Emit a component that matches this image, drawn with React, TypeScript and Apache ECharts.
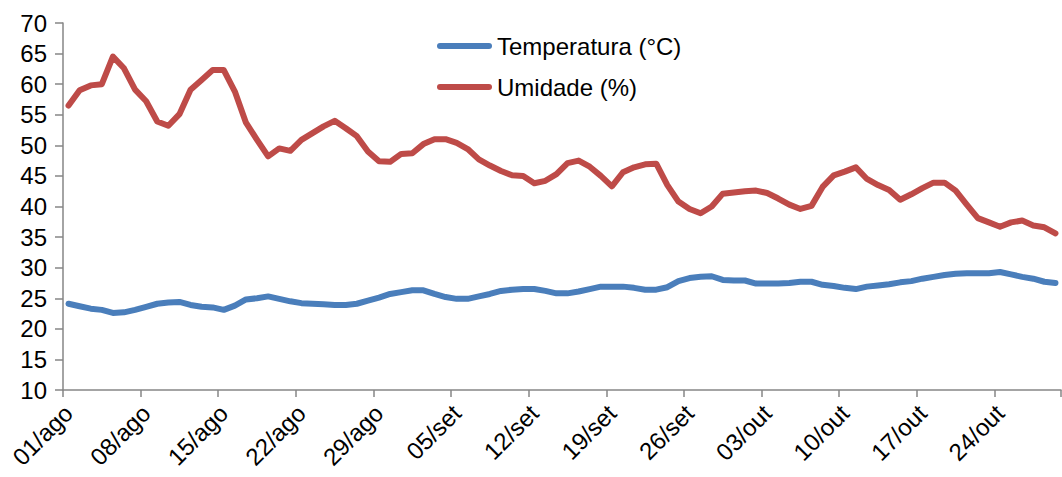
import React, { useEffect, useRef } from "react";
import * as echarts from "echarts";

const months: [string, number][] = [
  ["ago", 31],
  ["set", 30],
  ["out", 29],
];

const categories: string[] = [];
for (const [m, n] of months) {
  for (let d = 1; d <= n; d++) {
    categories.push((d < 10 ? "0" : "") + d + "/" + m);
  }
}

const temperatura = [
  24.1, 23.7, 23.3, 23.1, 22.6, 22.7, 23.1, 23.6, 24.1, 24.3,
  24.4, 23.9, 23.6, 23.5, 23.1, 23.8, 24.8, 25.0, 25.3, 24.9,
  24.5, 24.2, 24.1, 24.0, 23.9, 23.9, 24.1, 24.6, 25.1, 25.7,
  26.0, 26.3, 26.3, 25.7, 25.2, 24.9, 24.9, 25.3, 25.7, 26.2,
  26.4, 26.5, 26.5, 26.2, 25.8, 25.8, 26.1, 26.5, 26.9, 26.9,
  26.9, 26.7, 26.4, 26.4, 26.8, 27.8, 28.3, 28.5, 28.6, 28.0,
  27.9, 27.9, 27.4, 27.4, 27.4, 27.5, 27.7, 27.7, 27.2, 27.0,
  26.7, 26.5, 26.9, 27.1, 27.3, 27.6, 27.8, 28.2, 28.5, 28.8,
  29.0, 29.1, 29.1, 29.1, 29.3, 28.9, 28.5, 28.2, 27.7, 27.5,
];

const umidade = [
  56.5, 59.0, 59.8, 60.0, 64.5, 62.6, 59.1, 57.2, 53.9, 53.2,
  55.1, 59.1, 60.7, 62.3, 62.3, 58.8, 53.7, 50.9, 48.2, 49.5,
  49.1, 50.9, 52.0, 53.1, 54.0, 52.8, 51.5, 49.0, 47.4, 47.3,
  48.6, 48.7, 50.2, 51.0, 51.0, 50.4, 49.4, 47.7, 46.7, 45.8,
  45.1, 45.0, 43.8, 44.2, 45.3, 47.1, 47.5, 46.5, 45.0, 43.3,
  45.6, 46.4, 46.9, 47.0, 43.5, 40.8, 39.6, 38.9, 40.0, 42.1,
  42.3, 42.5, 42.6, 42.2, 41.3, 40.3, 39.6, 40.1, 43.2, 45.1,
  45.7, 46.4, 44.5, 43.5, 42.7, 41.1, 42.0, 43.0, 43.9, 43.9,
  42.6, 40.3, 38.1, 37.4, 36.7, 37.4, 37.7, 36.9, 36.6, 35.6,
];

const FONT = "'Liberation Sans', Arial, sans-serif";
const AXIS_COLOR = "#868686";
const BLUE = "#4A7EBB";
const RED = "#BE4B48";
const STADIUM = "path://M3,0 L52,0 A3,3 0 0 1 52,6 L3,6 A3,3 0 0 1 3,0 Z";

export default function App() {
  const ref = useRef<HTMLDivElement>(null);
  useEffect(() => {
    if (!ref.current) return;
    const chart = echarts.init(ref.current, undefined, { renderer: "svg" });
    chart.setOption({
      animation: false,
      backgroundColor: "#ffffff",
      textStyle: { fontFamily: FONT },
      grid: { left: 63, right: 1, top: 23, bottom: 87, containLabel: false },
      legend: {
        orient: "vertical",
        left: 437,
        top: 34,
        padding: 0,
        itemWidth: 55,
        itemHeight: 6,
        itemGap: 17,
        icon: STADIUM,
        textStyle: { fontFamily: FONT, fontSize: 24, color: "#000", lineHeight: 24 },
        data: ["Temperatura (°C)", "Umidade (%)"],
      },
      xAxis: {
        type: "category",
        data: categories,
        boundaryGap: true,
        axisLine: { lineStyle: { color: AXIS_COLOR, width: 1.5 } },
        axisTick: { show: true, interval: 6, length: 7, lineStyle: { color: AXIS_COLOR, width: 1.5 } },
        axisLabel: {
          interval: 6,
          rotate: 45,
          margin: 19,
          fontSize: 24,
          color: "#000",
          fontFamily: FONT,
        },
        splitLine: { show: false },
      },
      yAxis: {
        type: "value",
        min: 10,
        max: 70,
        interval: 5,
        axisLine: { show: true, lineStyle: { color: AXIS_COLOR, width: 1.5 } },
        axisTick: { show: true, length: 8, lineStyle: { color: AXIS_COLOR, width: 1.5 } },
        axisLabel: { margin: 16, fontSize: 24, color: "#000", fontFamily: FONT },
        splitLine: { show: false },
      },
      series: [
        {
          name: "Temperatura (°C)",
          type: "line",
          data: temperatura,
          symbol: "none",
          itemStyle: { color: BLUE },
          lineStyle: { color: BLUE, width: 6, cap: "round", join: "round" },
        },
        {
          name: "Umidade (%)",
          type: "line",
          data: umidade,
          symbol: "none",
          itemStyle: { color: RED },
          lineStyle: { color: RED, width: 6, cap: "round", join: "round" },
        },
      ],
    });
    return () => chart.dispose();
  }, []);
  return (
    <div
      ref={ref}
      style={{ position: "fixed", left: 0, top: 0, width: 1062, height: 477, background: "#fff" }}
    />
  );
}
